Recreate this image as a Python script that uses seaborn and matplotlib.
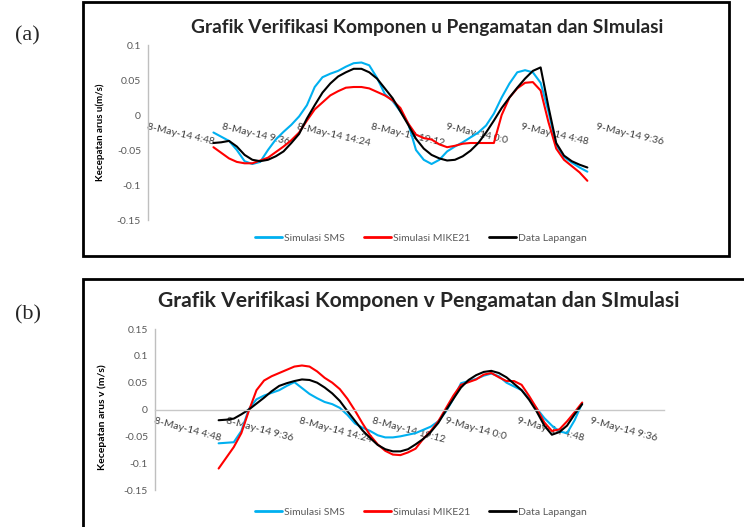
import numpy as np
import pandas as pd
import matplotlib
matplotlib.use('Agg')
import matplotlib.pyplot as plt
from matplotlib.patches import Rectangle
from matplotlib.lines import Line2D
import seaborn as sns

# waktu dalam jam sejak 8-May-14 00:00, tiap 30 menit (8-May 9:00 s/d 9-May 9:00)
jam = np.arange(9.0, 33.5, 0.5)

seri = ['Simulasi SMS', 'Simulasi MIKE21', 'Data Lapangan']
warna = ['#00B0F0', '#FF0000', '#000000']

# komponen u (m/s)
u_sms = [-0.025, -0.031, -0.037, -0.050, -0.066, -0.070, -0.067, -0.050, -0.035, -0.024,
         -0.014, -0.002, 0.014, 0.040, 0.054, 0.059, 0.063, 0.069, 0.074, 0.075,
         0.071, 0.053, 0.030, 0.020, 0.005, -0.012, -0.050, -0.064, -0.070, -0.064,
         -0.052, -0.045, -0.039, -0.032, -0.025, -0.015, 0.002, 0.025, 0.045, 0.061,
         0.064, 0.061, 0.046, 0.005, -0.043, -0.060, -0.068, -0.075, -0.081]
u_mike = [-0.046, -0.054, -0.062, -0.067, -0.069, -0.069, -0.065, -0.061, -0.053, -0.045,
          -0.036, -0.025, -0.008, 0.008, 0.018, 0.028, 0.034, 0.039, 0.040, 0.040,
          0.038, 0.033, 0.028, 0.021, 0.010, -0.012, -0.028, -0.033, -0.035, -0.042,
          -0.046, -0.044, -0.041, -0.040, -0.040, -0.040, -0.040, 0.000, 0.025, 0.038,
          0.046, 0.047, 0.035, -0.010, -0.048, -0.064, -0.073, -0.082, -0.094]
u_obs = [-0.040, -0.039, -0.037, -0.045, -0.057, -0.064, -0.066, -0.064, -0.059, -0.052,
         -0.040, -0.027, -0.005, 0.014, 0.032, 0.045, 0.055, 0.061, 0.066, 0.066,
         0.061, 0.052, 0.038, 0.024, 0.005, -0.014, -0.034, -0.048, -0.057, -0.062,
         -0.065, -0.064, -0.059, -0.051, -0.040, -0.025, -0.008, 0.010, 0.025, 0.039,
         0.052, 0.063, 0.068, 0.012, -0.040, -0.058, -0.066, -0.071, -0.075]

# komponen v (m/s)
v_sms = [-0.063, -0.062, -0.061, -0.040, 0.001, 0.019, 0.026, 0.031, 0.036, 0.044,
         0.051, 0.040, 0.029, 0.021, 0.014, 0.010, 0.003, -0.010, -0.026, -0.034,
         -0.040, -0.048, -0.052, -0.052, -0.050, -0.047, -0.044, -0.038, -0.032, -0.022,
         -0.004, 0.020, 0.049, 0.053, 0.057, 0.063, 0.067, 0.062, 0.050, 0.043,
         0.036, 0.020, 0.002, -0.016, -0.030, -0.041, -0.044, -0.020, 0.012]
v_mike = [-0.110, -0.090, -0.070, -0.044, -0.002, 0.036, 0.054, 0.062, 0.068, 0.074,
          0.080, 0.082, 0.080, 0.071, 0.059, 0.050, 0.038, 0.020, -0.002, -0.026,
          -0.048, -0.065, -0.077, -0.084, -0.085, -0.080, -0.073, -0.055, -0.040, -0.022,
          0.002, 0.026, 0.046, 0.051, 0.056, 0.065, 0.068, 0.060, 0.053, 0.053,
          0.046, 0.025, 0.002, -0.024, -0.040, -0.037, -0.022, -0.005, 0.013]
v_obs = [-0.020, -0.019, -0.017, -0.009, 0.000, 0.011, 0.022, 0.034, 0.044, 0.049,
         0.053, 0.056, 0.055, 0.050, 0.041, 0.030, 0.016, -0.003, -0.021, -0.039,
         -0.053, -0.066, -0.074, -0.078, -0.078, -0.074, -0.065, -0.055, -0.042, -0.025,
         -0.002, 0.020, 0.041, 0.055, 0.064, 0.070, 0.072, 0.068, 0.060, 0.048,
         0.036, 0.018, -0.004, -0.030, -0.047, -0.042, -0.030, -0.009, 0.010]

tick_jam = [4.8, 9.6, 14.4, 19.2, 24.0, 28.8, 33.6]
tick_label = ['8-May-14 4:48', '8-May-14 9:36', '8-May-14 14:24', '8-May-14 19:12',
              '9-May-14 0:0', '9-May-14 4:48', '9-May-14 9:36']

sns.set_theme(style='white')
plt.rcParams['font.family'] = ['Lato', 'DejaVu Sans']


def long_df(a, b, c):
    return pd.DataFrame({
        'jam': np.concatenate([jam, jam, jam]),
        'nilai': np.concatenate([a, b, c]),
        'seri': np.repeat(seri, len(jam)),
    })


def panel(ax, df, ylim, yticks, ylabel, rot, zero_line, ylab_pos, ylab_size):
    sns.lineplot(data=df, x='jam', y='nilai', hue='seri', hue_order=seri,
                 palette=warna, linewidth=1.5, estimator=None, legend=False, ax=ax)
    ax.set_xlim(4.8, 38.4)
    ax.set_ylim(*ylim)
    ax.set_yticks(yticks)
    ax.set_yticklabels(['%g' % t for t in yticks])
    ax.set_xticks(tick_jam)
    ax.set_xticklabels(tick_label)
    for s in ['top', 'right']:
        ax.spines[s].set_visible(False)
    ax.spines['left'].set_color('#bfbfbf')
    ax.spines['left'].set_linewidth(1)
    ax.spines['bottom'].set_position(('data', 0))
    ax.spines['bottom'].set_color('#c8c8c8' if zero_line else 'none')
    ax.spines['bottom'].set_linewidth(1)
    ax.tick_params(axis='x', length=0, pad=5, labelsize=7.5, labelcolor='#404040')
    ax.tick_params(axis='y', length=0, pad=5, labelsize=7.5, labelcolor='#595959')
    for lbl in ax.get_xticklabels():
        lbl.set_rotation(rot)
        lbl.set_ha('left')
        lbl.set_va('top')
        lbl.set_rotation_mode('anchor')
    ax.set_xlabel('')
    ax.set_ylabel(ylabel, fontsize=ylab_size, fontweight='bold', color='black')
    ax.yaxis.set_label_coords(*ylab_pos)
    ax.set_facecolor('none')


fig = plt.figure(figsize=(7.44, 5.27), dpi=100)

ax_a = fig.add_axes([148 / 744, 1 - 220 / 527, 523.5 / 744, 175 / 527])
panel(ax_a, long_df(u_sms, u_mike, u_obs), (-0.15, 0.1),
      [-0.15, -0.1, -0.05, 0, 0.05, 0.1], 'Kecepatan arus u(m/s)', -13, False,
      (-0.082, 0.5), 7)

ax_b = fig.add_axes([155 / 744, 1 - 490 / 527, 509 / 744, 161 / 527])
panel(ax_b, long_df(v_sms, v_mike, v_obs), (-0.15, 0.15),
      [-0.15, -0.1, -0.05, 0, 0.05, 0.1, 0.15], 'Kecepatan arus v (m/s)', -15, True,
      (-0.094, 0.45), 7.5)

# bingkai tiap grafik
fig.patches.append(Rectangle((83 / 744, 1 - 256 / 527), 646 / 744, 254 / 527,
                             transform=fig.transFigure, fill=False, ec='black', lw=2))
fig.patches.append(Rectangle((83 / 744, -0.1), 1.0, 0.1 + 1 - 279 / 527,
                             transform=fig.transFigure, fill=False, ec='black', lw=2))

fig.text(427.5 / 744, 1 - 27 / 527, 'Grafik Verifikasi Komponen u Pengamatan dan SImulasi',
         ha='center', va='center', fontsize=13.8, fontweight='bold')
fig.text(419 / 744, 1 - 301 / 527, 'Grafik Verifikasi Komponen v Pengamatan dan SImulasi',
         ha='center', va='center', fontsize=15.2, fontweight='bold')

fig.text(15 / 744, 1 - 36 / 527, '(a)', family='Liberation Serif', fontsize=16, va='center')
fig.text(15 / 744, 1 - 315 / 527, '(b)', family='Liberation Serif', fontsize=16, va='center')

handles = [Line2D([], [], color=c, lw=2) for c in warna]
for y in [1 - 238 / 527, 1 - 512 / 527]:
    leg = fig.legend(handles, seri, loc='center', bbox_to_anchor=(421 / 744, y), ncol=3,
                     frameon=False, fontsize=7.5, handlelength=2.6, handletextpad=0.2,
                     columnspacing=1.8)
    for t in leg.get_texts():
        t.set_color('#595959')

fig.savefig('out.png', dpi=100)
